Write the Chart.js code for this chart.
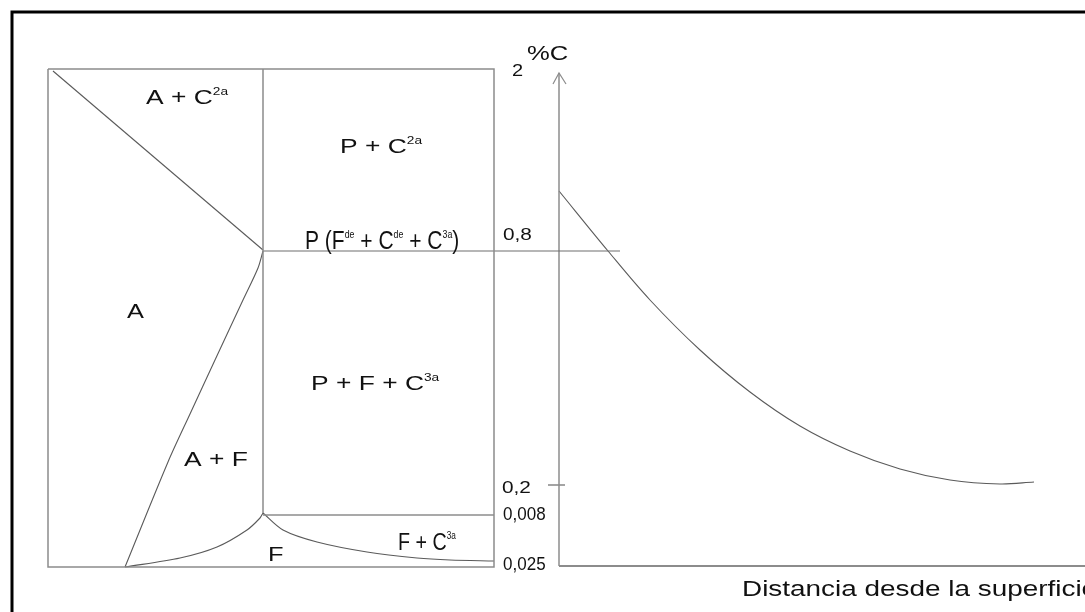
<!DOCTYPE html>
<html>
<head>
<meta charset="utf-8">
<script src="https://cdn.jsdelivr.net/npm/chart.js@4/dist/chart.umd.min.js"></script>
<style>
  body { margin: 0; background: #fff; }
  canvas { display: block; }
</style>
</head>
<body>
<canvas id="sketch" width="1085" height="612"></canvas>
<script>
// Sketch units: x 0..1085 left to right, y 0..612 top to bottom

// phase diagram (left)
const phaseBox = [[48, 69], [494, 69], [494, 567], [48, 567], [48, 69]];
const eutectoidVertical = [[263, 69], [263, 513]];
const acmLine = [[53, 71], [263, 250]];
const a3Curve = [[263, 251], [258, 268], [243, 300], [215, 360], [190, 414], [168, 462], [125, 567]];
const ferriteCurve = [[125, 567], [180, 558], [217, 547], [247, 530], [260, 518], [263, 513]];
const line0008 = [[263, 515], [494, 515]];
const solvusCurve = [[263, 513], [283, 530], [317, 542], [367, 552], [417, 558], [450, 560], [494, 561]];
const line08 = [[263, 251], [620, 251]];

// carbon profile (right)
const profileYAxis = [[559, 566], [559, 73]];
const profileArrow = [[553, 84], [559, 73], [566, 84]];
const profileXAxis = [[559, 566], [1100, 566]];
const tick02 = [[548, 485], [565, 485]];
const carbonProfile = [[559, 191], [608, 251], [650, 300], [700, 350], [750, 392], [800, 426],
                       [850, 451], [900, 469], [950, 480], [1000, 484], [1034, 482]];

const frameLine = [[12, 640], [12, 12], [1100, 12]];

// text labels: ^{..} is superscript
const labels = [
    { text: 'A + C^{2a}', x: 146, y: 104, size: 20, sx: 1.32 },
    { text: 'P + C^{2a}', x: 340, y: 153, size: 20, sx: 1.32 },
    { text: 'P (F^{de} + C^{de} + C^{3a})', x: 305, y: 249, size: 25, sx: 0.84, sup: 0.42 },
    { text: '0,8', x: 503, y: 240, size: 16, sx: 1.3 },
    { text: 'A', x: 127, y: 318, size: 20, sx: 1.27 },
    { text: 'P + F + C^{3a}', x: 311, y: 390, size: 20, sx: 1.32 },
    { text: 'A + F', x: 184, y: 466, size: 20, sx: 1.32 },
    { text: '0,2', x: 502, y: 493, size: 16, sx: 1.3 },
    { text: '0,008', x: 503, y: 520, size: 18.5, sx: 0.92 },
    { text: 'F', x: 268, y: 561, size: 20, sx: 1.27 },
    { text: 'F + C^{3a}', x: 398, y: 550, size: 24, sx: 0.82, sup: 0.42 },
    { text: '0,025', x: 503, y: 570, size: 18.5, sx: 0.92 },
    { text: '2', x: 512, y: 76, size: 16, sx: 1.25 },
    { text: '%C', x: 527, y: 60, size: 21, sx: 1.22 },
    { text: 'Distancia desde la superficie', x: 742, y: 596, size: 22.5, sx: 1.24 }
];

const FONT = '"Liberation Sans", Arial, sans-serif';

function toPoints(arr) {
    return arr.map(([x, y]) => ({ x, y }));
}

function lineSet(arr, color, width, tension) {
    return {
        data: toPoints(arr),
        showLine: true,
        borderColor: color,
        borderWidth: width,
        tension: tension || 0,
        pointRadius: 0,
        fill: false
    };
}

// split 'A + C^{2a}' into runs
function parseRuns(text) {
    const runs = [];
    const re = /\^\{([^}]*)\}/g;
    let last = 0, m;
    while ((m = re.exec(text)) !== null) {
        if (m.index > last) runs.push({ t: text.slice(last, m.index), sup: false });
        runs.push({ t: m[1], sup: true });
        last = re.lastIndex;
    }
    if (last < text.length) runs.push({ t: text.slice(last), sup: false });
    return runs;
}

const labelPlugin = {
    id: 'sketchLabels',
    afterDatasetsDraw(chart) {
        const ctx = chart.ctx;
        const xs = chart.scales.x, ys = chart.scales.y;
        ctx.save();
        ctx.fillStyle = '#111';
        ctx.textBaseline = 'alphabetic';
        ctx.textAlign = 'left';
        labels.forEach(l => {
            const px = xs.getPixelForValue(l.x);
            const py = ys.getPixelForValue(l.y);
            const supSize = l.size * (l.sup || 0.52);
            ctx.save();
            ctx.translate(px, py);
            ctx.scale(l.sx, 1);
            let cx = 0;
            parseRuns(l.text).forEach(r => {
                if (r.sup) {
                    ctx.font = `${supSize}px ${FONT}`;
                    ctx.fillText(r.t, cx, -l.size * 0.45);
                } else {
                    ctx.font = `${l.size}px ${FONT}`;
                    ctx.fillText(r.t, cx, 0);
                }
                cx += ctx.measureText(r.t).width;
            });
            ctx.restore();
        });
        ctx.restore();
    }
};

const boxColor = '#8c8c8c';
const curveColor = '#5a5a5a';

new Chart(document.getElementById('sketch'), {
    type: 'scatter',
    data: {
        datasets: [
            lineSet(frameLine, '#000', 3),
            lineSet(phaseBox, boxColor, 1.5),
            lineSet(eutectoidVertical, boxColor, 1.5),
            lineSet(line0008, boxColor, 1.5),
            lineSet(line08, '#6e6e6e', 1.2),
            lineSet(acmLine, curveColor, 1.1),
            lineSet(a3Curve, curveColor, 1.1, 0.3),
            lineSet(ferriteCurve, curveColor, 1.1, 0.3),
            lineSet(solvusCurve, curveColor, 1.1, 0.3),
            lineSet(profileYAxis, boxColor, 1.5),
            lineSet(profileArrow, boxColor, 1.2),
            lineSet(profileXAxis, boxColor, 2),
            lineSet(tick02, curveColor, 1.1),
            lineSet(carbonProfile, curveColor, 1.1, 0.35)
        ]
    },
    options: {
        responsive: false,
        animation: false,
        layout: { padding: 0 },
        plugins: {
            legend: { display: false },
            tooltip: { enabled: false }
        },
        scales: {
            x: { type: 'linear', min: 0, max: 1085, display: false },
            y: { type: 'linear', min: 0, max: 612, reverse: true, display: false }
        }
    },
    plugins: [labelPlugin]
});
</script>
</body>
</html>
